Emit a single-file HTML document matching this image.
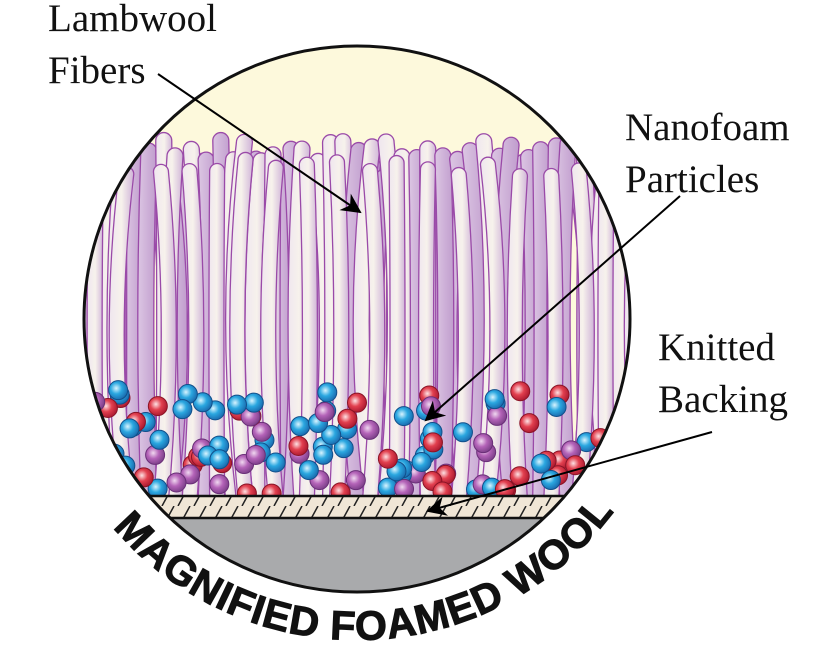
<!DOCTYPE html>
<html><head><meta charset="utf-8"><style>
html,body{margin:0;padding:0;background:#fff;width:817px;height:647px;overflow:hidden}
.lab{position:absolute;font-family:"Liberation Serif",serif;font-size:39px;line-height:52px;color:#111;white-space:nowrap}
</style></head><body>
<svg id="s" width="817" height="647" viewBox="0 0 817 647" style="position:absolute;left:0;top:0">
<defs>
<clipPath id="c"><circle cx="357" cy="319" r="273"/></clipPath>
<linearGradient id="f1" x1="0" x2="1"><stop offset="0" stop-color="#efe6ef"/><stop offset="0.5" stop-color="#f7f2ec"/><stop offset="1" stop-color="#cfb3d8"/></linearGradient>
<linearGradient id="f2" x1="0" x2="1"><stop offset="0" stop-color="#dcc6e3"/><stop offset="1" stop-color="#c09ccd"/></linearGradient>
<radialGradient id="gb" cx="0.4" cy="0.4" r="0.6"><stop offset="0" stop-color="#d8f4ff"/><stop offset="0.5" stop-color="#2aa7e0"/><stop offset="1" stop-color="#1b6fb2"/></radialGradient>
<radialGradient id="gr" cx="0.4" cy="0.4" r="0.6"><stop offset="0" stop-color="#fde2e4"/><stop offset="0.5" stop-color="#e2404f"/><stop offset="1" stop-color="#b01c32"/></radialGradient>
<radialGradient id="gp" cx="0.4" cy="0.4" r="0.6"><stop offset="0" stop-color="#f0d8f0"/><stop offset="0.5" stop-color="#b463b8"/><stop offset="1" stop-color="#80428c"/></radialGradient>
<pattern id="hatch" width="16" height="22" patternUnits="userSpaceOnUse"><rect width="16" height="22" fill="#f0e6d6"/><line x1="2" y1="22" x2="14" y2="0" stroke="#222" stroke-width="1.5"/></pattern>
<marker id="ah" viewBox="0 0 10 10" refX="9" refY="5" markerWidth="20" markerHeight="20" orient="auto-start-reverse" markerUnits="userSpaceOnUse"><path d="M0,0 L10,5 L0,10 L3,5 z" fill="#000"/></marker>
<path id="arc" d="M 112.9 527.5 A 321 321 0 0 0 613.7 511.7"/>
</defs>
<g clip-path="url(#c)">
<rect x="0" y="0" width="817" height="647" fill="#fdf9dc"/>
<g id="fib"></g>
<g id="par"></g>
<rect x="0" y="518" width="817" height="200" fill="#a9aaac"/>
<rect x="0" y="496" width="817" height="22" fill="url(#hatch)"/>
<line x1="0" y1="496" x2="817" y2="496" stroke="#111" stroke-width="2.5"/>
<line x1="0" y1="518" x2="817" y2="518" stroke="#111" stroke-width="2.5"/>
</g>
<circle cx="357" cy="319" r="273" fill="none" stroke="#111" stroke-width="3"/>
<text font-family="Liberation Sans, sans-serif" font-weight="bold" font-size="41" fill="#111" stroke="#111" stroke-width="1"><textPath href="#arc" textLength="575" lengthAdjust="spacing">MAGNIFIED FOAMED WOOL</textPath></text>
<line x1="158" y1="74" x2="360" y2="212" stroke="#000" stroke-width="2" marker-end="url(#ah)"/>
<line x1="680" y1="196" x2="426" y2="420" stroke="#000" stroke-width="2" marker-end="url(#ah)"/>
<line x1="712" y1="432" x2="428" y2="511" stroke="#000" stroke-width="2" marker-end="url(#ah)"/>
</svg>
<div class="lab" style="left:48px;top:-7px">Lambwool<br>Fibers</div>
<div class="lab" style="left:625px;top:102px">Nanofoam<br>Particles</div>
<div class="lab" style="left:658px;top:322px">Knitted<br>Backing</div>
<script>
var seed=7;function r(){seed=(seed*16807)%2147483647;return seed/2147483647;}
var NS="http://www.w3.org/2000/svg";
var fib=document.getElementById("fib"),par=document.getElementById("par");
function fiber(x,top,w,fill,bend){
 var p=document.createElementNS(NS,"path");
 var b=bend,y2=500,m=(top+y2)/2;
 var d="M"+x+","+(top+w/2)+" Q"+(x+b)+","+m+" "+x+","+y2+" L"+(x+w)+","+y2+" Q"+(x+w+b)+","+m+" "+(x+w)+","+(top+w/2)+" A"+(w/2)+","+(w/2)+" 0 0 0 "+x+","+(top+w/2)+"Z";
 p.setAttribute("d",d);p.setAttribute("fill",fill);p.setAttribute("stroke","#9a4aa8");p.setAttribute("stroke-width","1.3");
 fib.appendChild(p);
}
for(var x=85;x<640;x+=10){fiber(x+r()*4,150+r()*20,15,"url(#f2)",(r()-0.5)*50);}
for(var x=82;x<640;x+=14){fiber(x+r()*5,132+r()*22,16,r()<0.5?"url(#f1)":"url(#f2)",(r()-0.5)*44);}
var g=["url(#gb)","url(#gb)","url(#gr)","url(#gb)","url(#gp)","url(#gr)"];
for(var i=0;i<120;i++){var c=document.createElementNS(NS,"circle");
 var col=g[Math.floor(r()*g.length)];
 c.setAttribute("cx",90+r()*540);c.setAttribute("cy",390+r()*104);c.setAttribute("r",9.5);
 c.setAttribute("fill",col);c.setAttribute("stroke",col=="url(#gb)"?"#124f8a":(col=="url(#gr)"?"#8a1426":"#6a2f78"));c.setAttribute("stroke-width","1");
 par.appendChild(c);}
for(var x=88;x<640;x+=30){fiber(x+r()*6,150+r()*20,15,"url(#f1)",(r()-0.5)*40);}
</script>
</body></html>
